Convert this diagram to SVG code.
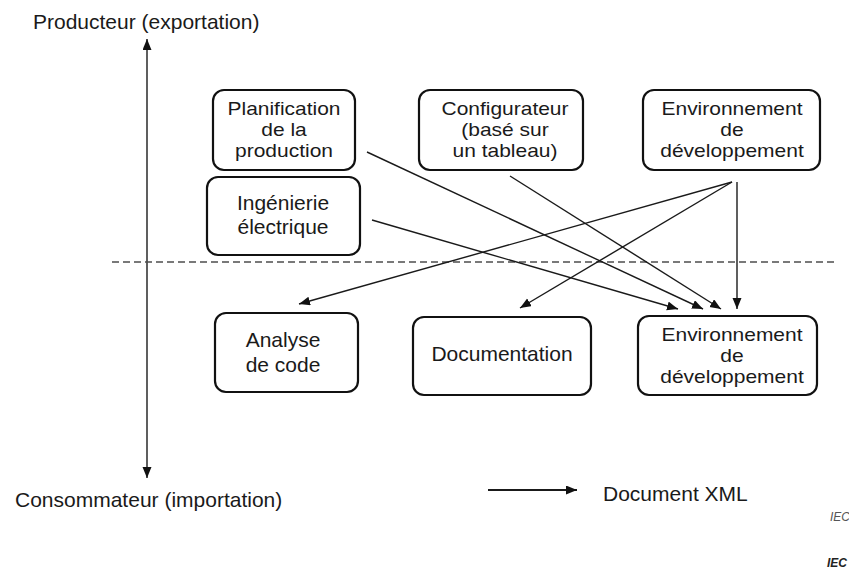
<svg xmlns="http://www.w3.org/2000/svg" width="849" height="570" viewBox="0 0 849 570">
  <style>
    .box { fill: #ffffff; stroke: #111111; stroke-width: 2.2; }
    .t { font-family: "Liberation Sans", Arial, sans-serif; font-size: 21px; fill: #1a1a1a; }
    .s { font-size: 19px; }
    .c { text-anchor: middle; }
    .conn { stroke: #1a1a1a; stroke-width: 1.4; fill: none; }
    .iec { font-family: "Liberation Sans", Arial, sans-serif; font-style: italic; font-size: 12px; }
  </style>
  <defs>
    <marker id="ah" markerUnits="userSpaceOnUse" markerWidth="12" markerHeight="10" refX="11" refY="4.5" orient="auto-start-reverse">
      <path d="M0,0 L11,4.5 L0,9 z" fill="#111111"/>
    </marker>
  </defs>
  <rect width="849" height="570" fill="#ffffff"/>

  <g id="axis">
    <line x1="147" y1="39" x2="147" y2="478" class="conn" marker-start="url(#ah)" marker-end="url(#ah)"/>
    <text x="33" y="29" class="t">Producteur (exportation)</text>
    <text x="15" y="507" class="t">Consommateur (importation)</text>
  </g>

  <g id="separator">
    <line x1="112" y1="262" x2="838" y2="262" stroke="#4d4d4d" stroke-width="1.6" stroke-dasharray="7,4"/>
  </g>

  <g id="n-planification">
    <rect x="213" y="90" width="142" height="80" rx="11" class="box"/>
    <text class="t s c" x="284" y="115" textLength="113" lengthAdjust="spacingAndGlyphs">Planification</text>
    <text class="t s c" x="284" y="136" textLength="45.5" lengthAdjust="spacingAndGlyphs">de la</text>
    <text class="t s c" x="284" y="157" textLength="98" lengthAdjust="spacingAndGlyphs">production</text>
  </g>
  <g id="n-configurateur">
    <rect x="419" y="90" width="164" height="80" rx="11" class="box"/>
    <text class="t s c" x="505" y="115" textLength="127" lengthAdjust="spacingAndGlyphs">Configurateur</text>
    <text class="t s c" x="505" y="136" textLength="87.5" lengthAdjust="spacingAndGlyphs">(basé sur</text>
    <text class="t s c" x="505" y="157" textLength="105" lengthAdjust="spacingAndGlyphs">un tableau)</text>
  </g>
  <g id="n-env-top">
    <rect x="643" y="90" width="177" height="80" rx="11" class="box"/>
    <text class="t s c" x="732" y="115" textLength="141" lengthAdjust="spacingAndGlyphs">Environnement</text>
    <text class="t s c" x="732" y="136" textLength="23.4" lengthAdjust="spacingAndGlyphs">de</text>
    <text class="t s c" x="732" y="157" textLength="143.5" lengthAdjust="spacingAndGlyphs">développement</text>
  </g>
  <g id="n-ingenierie">
    <rect x="207" y="177" width="153" height="78" rx="11" class="box"/>
    <text class="t c" x="283" y="210">Ingénierie</text>
    <text class="t c" x="283" y="234">électrique</text>
  </g>
  <g id="n-analyse">
    <rect x="215" y="313" width="143" height="79" rx="11" class="box"/>
    <text class="t c" x="283" y="347">Analyse</text>
    <text class="t c" x="283" y="372">de code</text>
  </g>
  <g id="n-documentation">
    <rect x="413" y="317" width="178" height="78" rx="11" class="box"/>
    <text class="t c" x="502" y="361">Documentation</text>
  </g>
  <g id="n-env-bottom">
    <rect x="638" y="316" width="179" height="79" rx="11" class="box"/>
    <text class="t s c" x="732" y="341" textLength="141" lengthAdjust="spacingAndGlyphs">Environnement</text>
    <text class="t s c" x="732" y="362" textLength="23.4" lengthAdjust="spacingAndGlyphs">de</text>
    <text class="t s c" x="732" y="383" textLength="143.5" lengthAdjust="spacingAndGlyphs">développement</text>
  </g>

  <g id="connectors">
    <line class="conn" x1="367" y1="152" x2="703" y2="309" marker-end="url(#ah)"/>
    <line class="conn" x1="372" y1="220" x2="678" y2="309" marker-end="url(#ah)"/>
    <line class="conn" x1="510" y1="176" x2="721" y2="309" marker-end="url(#ah)"/>
    <line class="conn" x1="737" y1="182" x2="737" y2="309" marker-end="url(#ah)"/>
    <line class="conn" x1="732" y1="182" x2="520" y2="308" marker-end="url(#ah)"/>
    <line class="conn" x1="732" y1="182" x2="299" y2="304" marker-end="url(#ah)"/>
  </g>

  <g id="legend">
    <line x1="488" y1="490" x2="577" y2="490" stroke="#1a1a1a" stroke-width="2" marker-end="url(#ah)"/>
    <text x="603" y="501" class="t">Document XML</text>
  </g>

  <g id="iec">
    <text x="830" y="521" class="iec" fill="#555555">IEC</text>
    <text x="827" y="567" class="iec" font-weight="bold" font-size="13" fill="#222222">IEC</text>
  </g>
</svg>
